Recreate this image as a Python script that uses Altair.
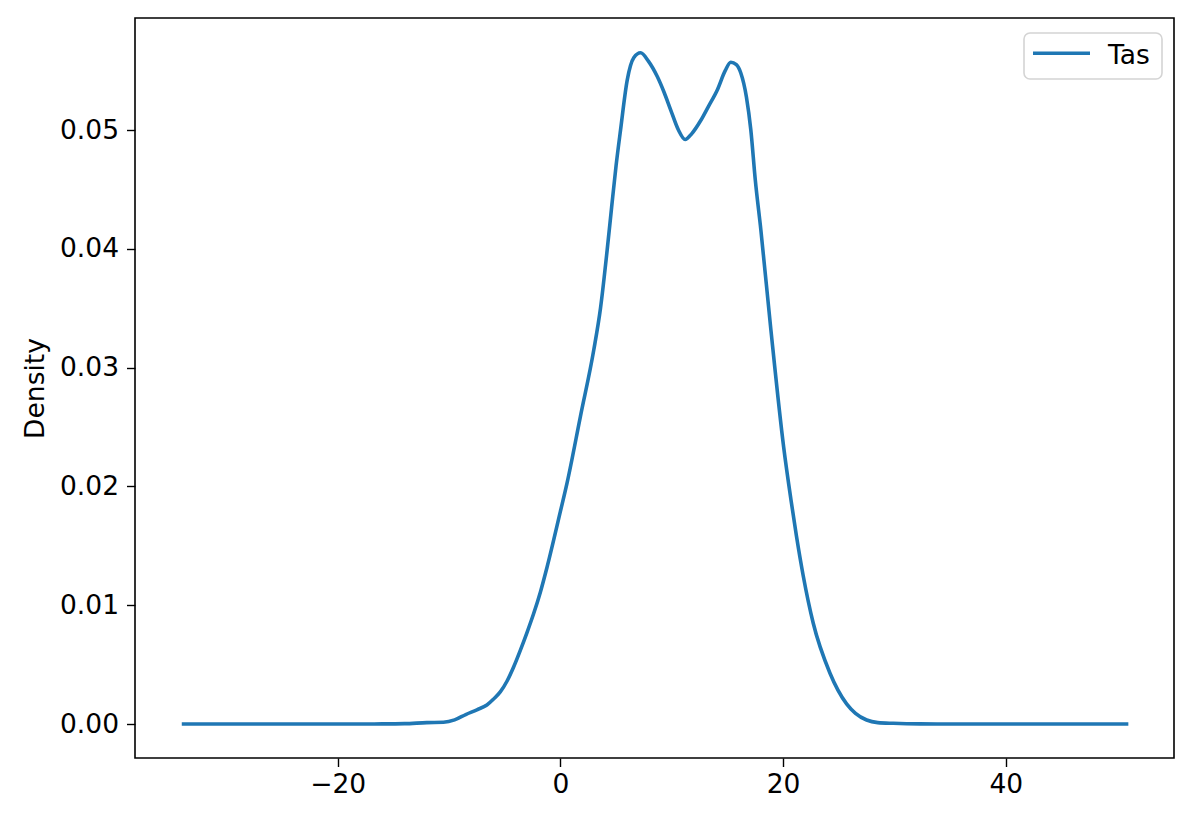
import altair as alt
import pandas as pd

# KDE curve of "Tas"
xs = [-34.0, -30.0, -25.0, -20.0, -16.0, -14.0, -12.0, -10.5, -9.5, -8.5, -7.5, -6.6, -6.0,
      -5.4, -4.8, -4.2, -3.6, -3.0, -2.4, -1.8, -1.2, 0.0, 0.6, 1.8, 3.0, 3.6, 4.2, 4.6, 5.0, 5.4,
      6.0, 6.6, 7.2, 7.9, 8.7, 9.3, 9.9, 10.6, 11.2, 11.8, 12.6, 13.3, 14.1, 14.8, 15.3, 15.8,
      16.2, 16.7, 17.1, 17.5, 18.0, 18.9, 20.05, 20.7, 21.2, 21.8, 22.7, 24.2, 25.7, 26.5,
      27.5, 28.5, 29.9, 32.3, 35.0, 40.0, 45.0, 51.0]
dens = [0.0, 0.0, 0.0, 0.0, 0.00001, 0.00003, 0.00012, 0.00015, 0.00035, 0.0008, 0.0012, 0.0016, 0.0021,
        0.0027, 0.0036, 0.0048, 0.0062, 0.0077, 0.0093, 0.0111, 0.0132, 0.0179, 0.0203, 0.0259, 0.0315, 0.0350, 0.0399, 0.0435, 0.0470, 0.0500,
        0.0542, 0.0561, 0.0565, 0.0558, 0.0545, 0.0532, 0.0517, 0.0500, 0.0492, 0.0497, 0.0508, 0.0520, 0.0534, 0.0550, 0.0557, 0.0555,
        0.0548, 0.0528, 0.0500, 0.0458, 0.0416, 0.0332, 0.0233, 0.0189, 0.0158, 0.0125, 0.0085, 0.0043, 0.0017, 0.0009,
        0.00034, 0.00012, 0.00006, 0.00001, 0.0, 0.0, 0.0, 0.0]
series = ["Tas"] * len(xs)
legend_labels = ["Tas"]

x_ticks = [-20, 0, 20, 40]
y_ticks = [0.0, 0.01, 0.02, 0.03, 0.04, 0.05]

df = pd.DataFrame({"x": xs, "density": dens, "series": series})
leg = pd.DataFrame({"label": legend_labels})

FONT = "DejaVu Sans"
FS = 26.5
BLUE = "#1f77b4"

line = alt.Chart(df).mark_line(interpolate="monotone", strokeWidth=3.6, color=BLUE).encode(
    x=alt.X("x:Q", scale=alt.Scale(domain=[-38.2, 55.1], nice=False, zero=False),
            axis=alt.Axis(title=None, values=x_ticks, format="d", domain=False, grid=False,
                          tickSize=8.5, tickWidth=1.4, tickColor="black",
                          labelFontSize=FS, labelFont=FONT, labelColor="black", labelPadding=5)),
    y=alt.Y("density:Q", scale=alt.Scale(domain=[-0.00286, 0.05943], nice=False, zero=False),
            axis=alt.Axis(title="Density", values=y_ticks, format=".2f", domain=False, grid=False,
                          tickSize=8.5, tickWidth=1.4, tickColor="black",
                          labelFontSize=FS, labelFont=FONT, labelColor="black", labelPadding=8,
                          titleFontSize=FS, titleFont=FONT, titleFontWeight="normal",
                          titleColor="black", titlePadding=10)),
)

# legend box drawn in the matplotlib style
leg_box = alt.Chart(leg).mark_rect(
    fill="white", stroke="#d4d4d4", strokeWidth=1.6, cornerRadius=6
).encode(x=alt.value(889), x2=alt.value(1027), y=alt.value(15), y2=alt.value(61))

leg_line = alt.Chart(leg).mark_rule(color=BLUE, strokeWidth=3.6).encode(
    x=alt.value(898), x2=alt.value(955), y=alt.value(35.3)
)

leg_text = alt.Chart(leg).mark_text(
    align="left", baseline="alphabetic", fontSize=FS, font=FONT, color="black"
).encode(x=alt.value(973), y=alt.value(45.5), text="label:N")

chart = alt.layer(line, leg_box, leg_line, leg_text).properties(
    width=1039, height=740,
    autosize=alt.AutoSizeParams(type="none"),
    padding={"left": 127, "top": 10, "right": 10, "bottom": 50},
).configure(background="white").configure_view(
    stroke="black", strokeWidth=1.6
)

chart.save("out.html", embed_options={"renderer": "svg", "actions": False})
